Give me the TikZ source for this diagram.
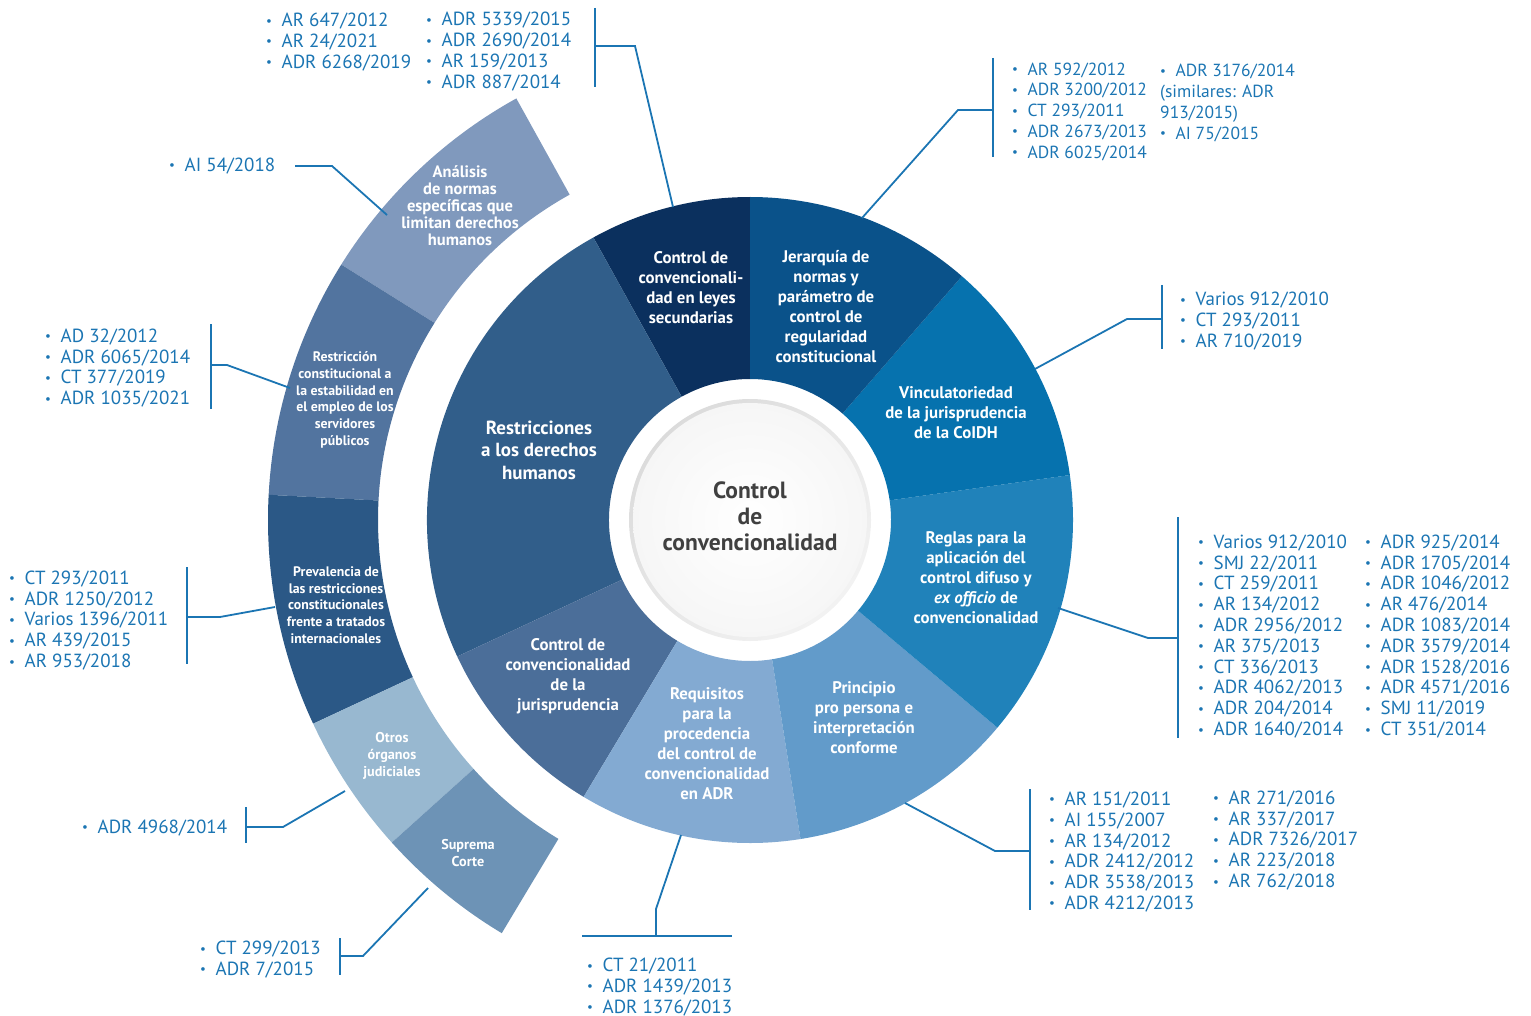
\documentclass[tikz,border=0pt]{standalone}
\usepackage{fontspec}
\setmainfont{PT Sans}
\usetikzlibrary{calc}
\definecolor{listblue}{RGB}{27,117,179}
\definecolor{cLeyes}{RGB}{11,48,94}
\definecolor{cJer}{RGB}{10,82,138}
\definecolor{cVinc}{RGB}{6,114,174}
\definecolor{cReglas}{RGB}{32,130,186}
\definecolor{cPrinc}{RGB}{98,155,202}
\definecolor{cReq}{RGB}{131,170,210}
\definecolor{cJuris}{RGB}{75,110,153}
\definecolor{cRestr}{RGB}{49,94,138}
\definecolor{cAnal}{RGB}{128,153,189}
\definecolor{cRcons}{RGB}{82,116,159}
\definecolor{cPrev}{RGB}{43,88,134}
\definecolor{cOtros}{RGB}{152,184,208}
\definecolor{cSup}{RGB}{109,147,182}
\definecolor{centertext}{RGB}{64,64,64}
\newcommand\drawsector[5]{%
  \fill[#1] ($(C)+(#2:#4)$) arc[start angle=#2,end angle=#3,radius=#4]
    -- ($(C)+(#3:#5)$) arc[start angle=#3,end angle=#2,radius=#5] -- cycle;}
\newcommand\bl{\makebox[15.5pt][l]{\fontsize{13}{13}\selectfont\raisebox{1.5pt}{•}}}
\begin{document}
\begin{tikzpicture}[x=1pt,y=1pt,
  conn/.style={draw=listblue,line width=1.8pt},
  lst/.style={text=listblue,font=\fontsize{19}{20.8}\selectfont,align=left,inner sep=0pt,anchor=west,yshift=-2pt},
  seclabel/.style={text=white,font=\bfseries\fontsize{16.8}{20}\selectfont,align=center,inner sep=0pt},
  outlabel/.style={text=white,font=\bfseries\fontsize{13.8}{16.8}\selectfont,align=center,inner sep=0pt}]
\useasboundingbox (0,0) rectangle (1531,-1016);
\coordinate (C) at (750,-520);
% inner ring
\drawsector{cLeyes}{90}{119}{141}{323}
\drawsector{cRestr}{119}{205}{141}{323}
\drawsector{cJuris}{205}{239}{141}{323}
\drawsector{cReq}{239}{279}{141}{323}
\drawsector{cPrinc}{279}{320}{141}{323}
\drawsector{cReglas}{320}{368}{141}{323}
\drawsector{cVinc}{8}{49}{141}{323}
\drawsector{cJer}{49}{90}{141}{323}
% outer ring
\drawsector{cAnal}{119}{148}{372}{482}
\drawsector{cRcons}{148}{177}{372}{482}
\drawsector{cPrev}{177}{205}{372}{482}
\drawsector{cOtros}{205}{222}{372}{482}
\drawsector{cSup}{222}{239}{372}{482}
% centre disc
\shade[left color=gray!28,right color=gray!10,shading angle=45] (C) circle (121);
\shade[inner color=white,outer color=gray!7] (C) circle (117);
% sector labels
\node[seclabel] (leyes) at (691,-288) {Control de\\convencionali-\\dad en leyes\\secundarias};
\node[seclabel] (jer) at (826,-307) {Jerarquía de\\normas y\\parámetro de\\control de\\regularidad\\constitucional};
\node[seclabel] (vinc) at (956,-413) {Vinculatoriedad\\de la jurisprudencia\\de la CoIDH};
\node[seclabel] (reglas) at (976,-578) {Reglas para la\\aplicación del\\control difuso y\\\textit{ex officio} de\\convencionalidad};
\node[seclabel] (princ) at (864,-718) {Principio\\pro persona e\\interpretación\\conforme};
\node[seclabel] (req) at (707,-744) {Requisitos\\para la\\procedencia\\del control de\\convencionalidad\\en ADR};
\node[seclabel] (juris) at (568,-676) {Control de\\convencionalidad\\de la\\jurisprudencia};
\node[seclabel,font=\bfseries\fontsize{19}{22.5}\selectfont] (restr) at (539,-450) {Restricciones\\a los derechos\\humanos};
\node[text=centertext,font=\bfseries\fontsize{23.5}{26}\selectfont,align=center,inner sep=0pt] (centro) at (750,-516) {Control\\de\\convencionalidad};
% outer labels
\node[outlabel,font=\bfseries\fontsize{16.5}{17}\selectfont] (anal) at (460,-206) {Análisis\\de normas\\específicas que\\limitan derechos\\humanos};
\node[outlabel] (rcons) at (345,-400) {Restricción\\constitucional a\\la estabilidad en\\el empleo de los\\servidores\\públicos};
\node[outlabel] (prev) at (336,-605) {Prevalencia de\\las restricciones\\constitucionales\\frente a tratados\\internacionales};
\node[outlabel,font=\bfseries\fontsize{14.2}{16.8}\selectfont] (otros) at (392,-756) {Otros\\órganos\\judiciales};
\node[outlabel,font=\bfseries\fontsize{14.2}{16.8}\selectfont] (sup) at (468,-853) {Suprema\\Corte};
% lists
\node[lst] (la1) at (266,-40) {\bl AR 647/2012\\\bl AR 24/2021\\\bl ADR 6268/2019};
\node[lst] (la2) at (426,-49.5) {\bl ADR 5339/2015\\\bl ADR 2690/2014\\\bl AR 159/2013\\\bl ADR 887/2014};
\node[lst,font=\fontsize{17.5}{20.75}\selectfont] (lb1) at (1012,-109.5) {\bl AR 592/2012\\\bl ADR 3200/2012\\\bl CT 293/2011\\\bl ADR 2673/2013\\\bl ADR 6025/2014};
\node[lst,font=\fontsize{17.5}{20.75}\selectfont] (lb2) at (1160,-101) {\bl ADR 3176/2014\\(similares: ADR\\913/2015)\\\bl AI 75/2015};
\node[lst] (lc) at (1180,-319) {\bl Varios 912/2010\\\bl CT 293/2011\\\bl AR 710/2019};
\node[lst] (ld1) at (1198,-634.5) {\bl Varios 912/2010\\\bl SMJ 22/2011\\\bl CT 259/2011\\\bl AR 134/2012\\\bl ADR 2956/2012\\\bl AR 375/2013\\\bl CT 336/2013\\\bl ADR 4062/2013\\\bl ADR 204/2014\\\bl ADR 1640/2014};
\node[lst] (ld2) at (1365,-634.5) {\bl ADR 925/2014\\\bl ADR 1705/2014\\\bl ADR 1046/2012\\\bl AR 476/2014\\\bl ADR 1083/2014\\\bl ADR 3579/2014\\\bl ADR 1528/2016\\\bl ADR 4571/2016\\\bl SMJ 11/2019\\\bl CT 351/2014};
\node[lst] (le1) at (1049,-850) {\bl AR 151/2011\\\bl AI 155/2007\\\bl AR 134/2012\\\bl ADR 2412/2012\\\bl ADR 3538/2013\\\bl ADR 4212/2013};
\node[lst] (le2) at (1213,-838.5) {\bl AR 271/2016\\\bl AR 337/2017\\\bl ADR 7326/2017\\\bl AR 223/2018\\\bl AR 762/2018};
\node[lst] (lf) at (587,-985) {\bl CT 21/2011\\\bl ADR 1439/2013\\\bl ADR 1376/2013};
\node[lst] (lg) at (200,-957.5) {\bl CT 299/2013\\\bl ADR 7/2015};
\node[lst] (lh) at (82,-826) {\bl ADR 4968/2014};
\node[lst] (li) at (9,-618.5) {\bl CT 293/2011\\\bl ADR 1250/2012\\\bl Varios 1396/2011\\\bl AR 439/2015\\\bl AR 953/2018};
\node[lst] (lj) at (45,-366) {\bl AD 32/2012\\\bl ADR 6065/2014\\\bl CT 377/2019\\\bl ADR 1035/2021};
\node[lst] (lk) at (169,-164) {\bl AI 54/2018};
% connector coordinates
\coordinate (b1t) at (595,-8);   \coordinate (b1b) at (595,-87);
\coordinate (b1m) at (595,-46);  \coordinate (k1) at (635,-46);  \coordinate (e1) at (673,-207);
\coordinate (b2t) at (993,-58);  \coordinate (b2b) at (993,-157);
\coordinate (b2m) at (993,-110); \coordinate (k2) at (958,-110); \coordinate (e2) at (862,-218);
\coordinate (b3t) at (1162,-285); \coordinate (b3b) at (1162,-349);
\coordinate (b3m) at (1162,-319); \coordinate (k3) at (1127,-319); \coordinate (e3) at (1035,-369);
\coordinate (b4t) at (1178,-517); \coordinate (b4b) at (1178,-738);
\coordinate (b4m) at (1178,-638); \coordinate (k4) at (1148,-638); \coordinate (e4) at (1058,-608);
\coordinate (b5t) at (1030,-789); \coordinate (b5b) at (1030,-910);
\coordinate (b5m) at (1030,-851); \coordinate (k5) at (995,-851); \coordinate (e5) at (905,-803);
\coordinate (b6l) at (582,-936); \coordinate (b6r) at (732,-936);
\coordinate (b6m) at (656,-936); \coordinate (k6) at (656,-909); \coordinate (e6) at (681,-835);
\coordinate (b7t) at (340,-938); \coordinate (b7b) at (340,-975);
\coordinate (b7m) at (340,-956); \coordinate (k7) at (363,-956); \coordinate (e7) at (428,-888);
\coordinate (b8t) at (246,-807); \coordinate (b8b) at (246,-843);
\coordinate (b8m) at (246,-827); \coordinate (k8) at (283,-827); \coordinate (e8) at (345,-791);
\coordinate (b9t) at (187,-567); \coordinate (b9b) at (187,-664);
\coordinate (b9m) at (187,-617); \coordinate (k9) at (220,-617); \coordinate (e9) at (275,-607);
\coordinate (b10t) at (211,-324); \coordinate (b10b) at (211,-409);
\coordinate (b10m) at (211,-365); \coordinate (k10) at (227,-365); \coordinate (e10) at (290,-388);
\coordinate (s11) at (295,-166); \coordinate (k11) at (332,-166); \coordinate (e11) at (387,-215);
% connectors
\draw[conn] (b1t) -- (b1b); \draw[conn] (b1m) -- (k1) -- (e1);
\draw[conn] (b2t) -- (b2b); \draw[conn] (b2m) -- (k2) -- (e2);
\draw[conn] (b3t) -- (b3b); \draw[conn] (b3m) -- (k3) -- (e3);
\draw[conn] (b4t) -- (b4b); \draw[conn] (b4m) -- (k4) -- (e4);
\draw[conn] (b5t) -- (b5b); \draw[conn] (b5m) -- (k5) -- (e5);
\draw[conn] (b6l) -- (b6r); \draw[conn] (b6m) -- (k6) -- (e6);
\draw[conn] (b7t) -- (b7b); \draw[conn] (b7m) -- (k7) -- (e7);
\draw[conn] (b8t) -- (b8b); \draw[conn] (b8m) -- (k8) -- (e8);
\draw[conn] (b9t) -- (b9b); \draw[conn] (b9m) -- (k9) -- (e9);
\draw[conn] (b10t) -- (b10b); \draw[conn] (b10m) -- (k10) -- (e10);
\draw[conn] (s11) -- (k11) -- (e11);
\end{tikzpicture}
\end{document}
